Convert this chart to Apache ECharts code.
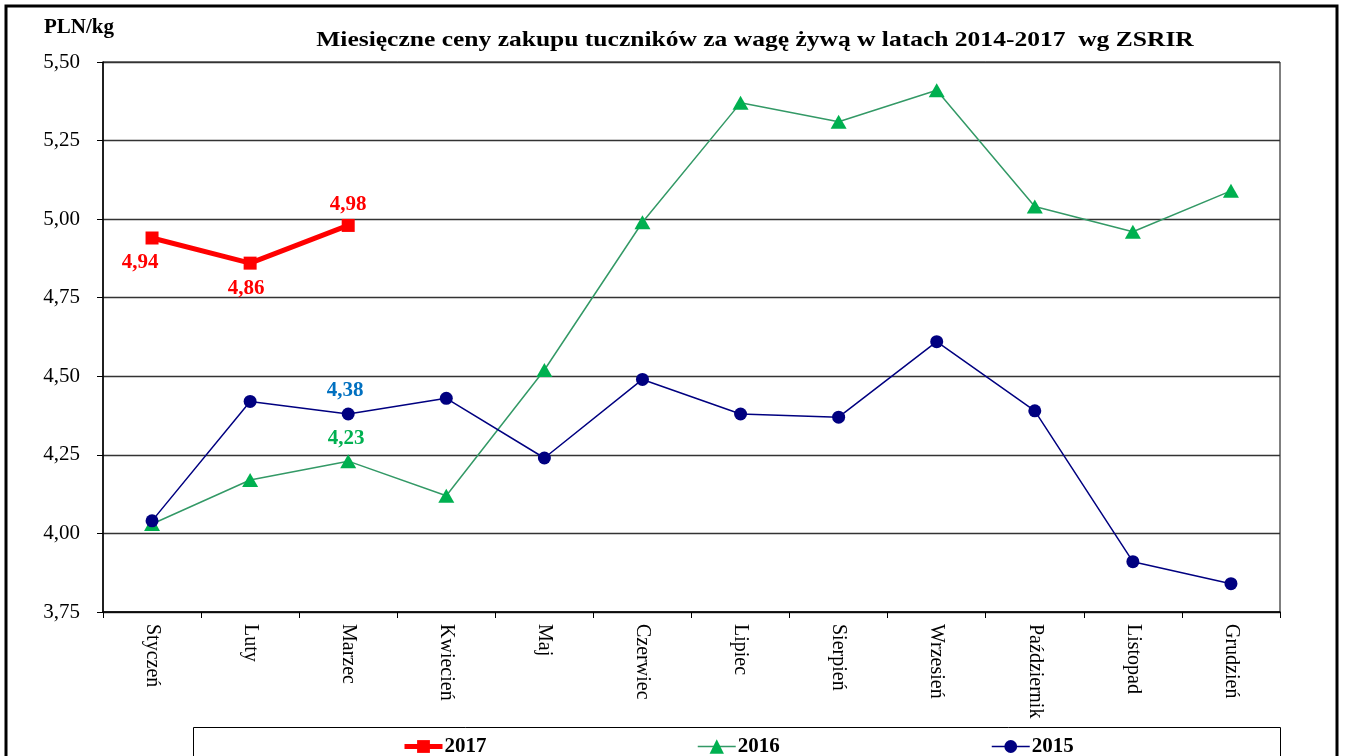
<!DOCTYPE html>
<html><head><meta charset="utf-8">
<script src="https://cdn.jsdelivr.net/npm/echarts@6/dist/echarts.min.js"></script>
<style>html,body{margin:0;padding:0;background:#fff}#c{width:1346px;height:756px}</style>
</head><body><div id="c"></div>
<script>
const months = ['Styczeń','Luty','Marzec','Kwiecień','Maj','Czerwiec','Lipiec','Sierpień','Wrzesień','Październik','Listopad','Grudzień'];
const v2017 = [4.94, 4.86, 4.98];
const v2016 = [4.03, 4.17, 4.23, 4.12, 4.52, 4.99, 5.37, 5.31, 5.41, 5.04, 4.96, 5.09];
const v2015 = [4.04, 4.42, 4.38, 4.43, 4.24, 4.49, 4.38, 4.37, 4.61, 4.39, 3.91, 3.84];
const seriesNames = ['2017', '2016', '2015'];
const yMin = 3.75, yMax = 5.5, yStep = 0.25;
const titleText = 'Miesięczne ceny zakupu tuczników za wagę żywą w latach 2014-2017  wg ZSRIR';
const unitText = 'PLN/kg';

const SERIF = '"Liberation Serif","Times New Roman",serif';
const fmt = v => v.toFixed(2).replace('.', ',');

function withLabels(values, labelled, color) {
  return values.map((v, i) => {
    const l = labelled[i];
    if (!l) return v;
    return { value: v, label: Object.assign({ show: true, color: color, fontFamily: SERIF, fontWeight: 'bold', fontSize: 21, formatter: p => fmt(p.value) }, l) };
  });
}

const legendText = { fontFamily: SERIF, fontWeight: 'bold', fontSize: 21, color: '#000', padding: [0, 0, 0, -3] };

const chart = echarts.init(document.getElementById('c'));
chart.setOption({
  animation: false,
  backgroundColor: '#fff',
  title: [
    { text: unitText, left: 39, top: 12, textStyle: { fontFamily: SERIF, fontWeight: 'bold', fontSize: 21, color: '#000' } }
  ],
  graphic: [
    { type: 'rect', shape: { x: 6, y: 6, width: 1331, height: 800 }, style: { fill: 'none', stroke: '#000', lineWidth: 3 }, silent: true },
    { type: 'rect', shape: { x: 193.5, y: 727.5, width: 1087, height: 60 }, style: { fill: 'none', stroke: '#000', lineWidth: 1 }, silent: true },
    { type: 'text', x: 755, y: 40, scaleX: 1.16, silent: true,
      style: { text: titleText, fontFamily: SERIF, fontWeight: 'bold', fontSize: 22, fill: '#000', textAlign: 'center', textVerticalAlign: 'middle' } }
  ],
  legend: [
    { data: [seriesNames[0]], left: 397, top: 731, itemWidth: 38, itemHeight: 16, lineStyle: { width: 5 }, textStyle: legendText },
    { data: [seriesNames[1]], left: 692, top: 731, itemWidth: 38, itemHeight: 18, lineStyle: { width: 1.5 }, textStyle: legendText },
    { data: [seriesNames[2]], left: 986, top: 731, itemWidth: 38, itemHeight: 16, lineStyle: { width: 1.5 }, textStyle: legendText }
  ],
  grid: { left: 103, right: 66, top: 62, bottom: 144, show: true, borderColor: '#000', borderWidth: 1, containLabel: false },
  xAxis: {
    type: 'category', data: months, boundaryGap: true,
    axisLine: { lineStyle: { color: '#000', width: 1.5 } },
    axisTick: { show: true, length: 6, lineStyle: { color: '#000' } },
    axisLabel: { rotate: -90, margin: 12, fontFamily: SERIF, fontSize: 20, color: '#000' }
  },
  yAxis: {
    type: 'value', min: yMin, max: yMax, interval: yStep,
    axisLine: { show: true, lineStyle: { color: '#000', width: 1.5 } },
    axisTick: { show: true, length: 6, lineStyle: { color: '#000' } },
    axisLabel: { margin: 23, fontFamily: SERIF, fontSize: 21, color: '#000', formatter: v => fmt(v) },
    splitLine: { lineStyle: { color: '#333', width: 1.3 } }
  },
  series: [
    {
      name: seriesNames[0], type: 'line', z: 5,
      data: withLabels(v2017, {
        0: { position: 'bottom', distance: 8, offset: [-12, 0] },
        1: { position: 'bottom', distance: 8, offset: [-4, 0] },
        2: { position: 'top', distance: 4 }
      }, '#ff0000'),
      symbol: 'rect', symbolSize: 13,
      lineStyle: { color: '#ff0000', width: 5 },
      itemStyle: { color: '#ff0000' }
    },
    {
      name: seriesNames[1], type: 'line', z: 3,
      data: withLabels(v2016, { 2: { position: 'top', distance: 5, offset: [-2, 0] } }, '#00b050'),
      symbol: 'triangle', symbolSize: [16, 14],
      lineStyle: { color: '#339966', width: 1.5 },
      itemStyle: { color: '#00b050' }
    },
    {
      name: seriesNames[2], type: 'line', z: 4,
      data: withLabels(v2015, { 2: { position: 'top', distance: 6, offset: [-3, 0] } }, '#0070c0'),
      symbol: 'circle', symbolSize: 13,
      lineStyle: { color: '#000080', width: 1.5 },
      itemStyle: { color: '#000080' }
    }
  ]
});
</script>
</body></html>
